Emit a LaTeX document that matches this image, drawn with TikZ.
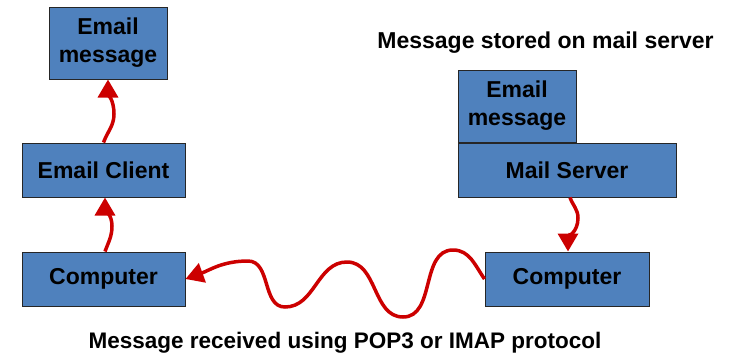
\documentclass[tikz,border=0pt]{standalone}
\usepackage{fontspec}
\setmainfont{Liberation Sans}
\usepackage{xcolor}
\definecolor{boxblue}{RGB}{79,129,189}
\definecolor{wavered}{RGB}{204,0,0}
\usetikzlibrary{positioning,arrows.meta}

\tikzset{
  box/.style={draw=black!85, line width=1pt, fill=boxblue, align=center,
    inner sep=0pt, font=\bfseries\fontsize{23}{28}\selectfont},
  wave/.style={draw=wavered, line width=3.5pt,
    -{Triangle[width=20pt,length=18pt]}},
  caption/.style={font=\bfseries\fontsize{23}{28}\selectfont}
}

\begin{document}
\begin{tikzpicture}[x=1pt,y=-1pt]
  \useasboundingbox (0,0) rectangle (731,357);
  % Left column: client side
  \node[box, minimum width=118pt, minimum height=72pt] (msgl) at (108,43) {Email\\message};
  \node[box, minimum width=163pt, minimum height=54pt] (client) at (103.5,170) {Email Client};
  \node[box, minimum width=163pt, minimum height=54pt] (pcl) at (103.5,279) {Computer};

  % Right column: server side
  \node[caption] (stored) at (545.5,43) {Message stored on mail server};
  \node[box, minimum width=118pt, minimum height=72pt] (msgr) at (517,106) {Email\\message};
  \node[box, minimum width=218pt, minimum height=54pt] (server) at (567,170) {Mail Server};
  \node[box, minimum width=164pt, minimum height=54pt] (pcr) at (567,279) {Computer};

  \node[caption, font=\bfseries\fontsize{22.5}{27}\selectfont] (received) at (345,343) {Message received using POP3 or IMAP protocol};

  % Squiggly arrows
  \draw[wave] (client.north) to[out=70,in=-90] (114,114) to[out=90,in=-90] (msgl.south);
  \draw[wave] ([xshift=1.5pt]pcl.north) to[out=70,in=-90] (112,226) to[out=90,in=-90] ([xshift=1.5pt]client.south);
  \draw[wave] ([xshift=3pt]server.south) to[out=-70,in=90] (578,218) to[out=-90,in=90] ([xshift=1pt]pcr.north);
  \draw[wave] (pcr.west) to[out=125,in=0] (453,250) to[out=180,in=0] (403,317)
    to[out=180,in=0] (347,262) to[out=180,in=0] (285,307)
    to[out=180,in=0] (248,261) to[out=180,in=20] (pcl.east);
\end{tikzpicture}
\end{document}
